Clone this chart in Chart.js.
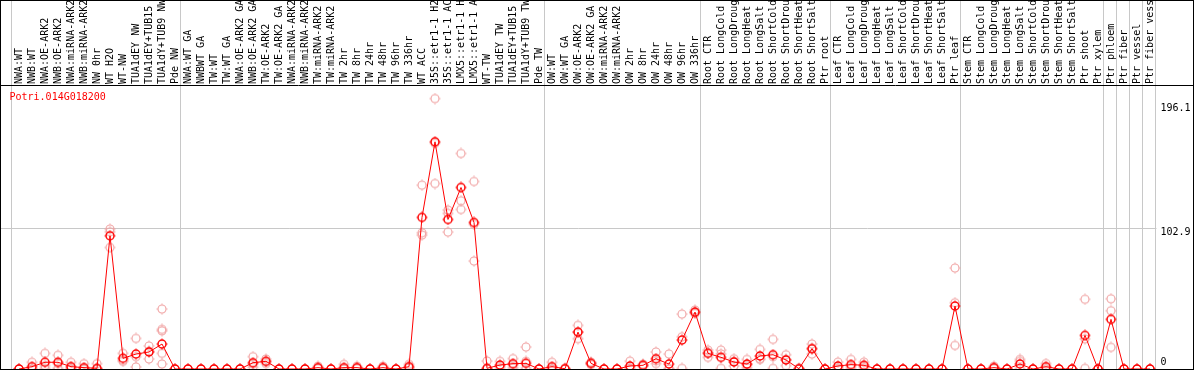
<!DOCTYPE html>
<html><head><meta charset="utf-8">
<script src="https://cdn.jsdelivr.net/npm/chart.js@4/dist/chart.umd.min.js"></script>
<style>html,body{margin:0;padding:0;background:#fff;overflow:hidden}</style>
</head><body>
<canvas id="c" width="1194" height="370"></canvas>
<script>
const geneId = 'Potri.014G018200';
const categories = [
 'NWA:WT','NWB:WT','NWA:OE-ARK2','NWB:OE-ARK2','NWA:miRNA-ARK2','NWB:miRNA-ARK2','NW 0hr','WT H2O','WT-NW','TUA1dEY NW',
 'TUA1dEY+TUB15 NW','TUA1dY+TUB9 NW','Pde NW','NWA:WT GA','NWBWT GA','TW:WT','TW:WT GA','NWA:OE-ARK2 GA','NWB:OE-ARK2 GA','TW:OE-ARK2',
 'TW:OE-ARK2 GA','NWA:miRNA-ARK2 GA','NWB:miRNA-ARK2 GA','TW:miRNA-ARK2','TW:miRNA-ARK2 GA','TW 2hr','TW 8hr','TW 24hr','TW 48hr','TW 96hr',
 'TW 336hr','WT ACC','35S::etr1-1 H2O','35S::etr1-1 ACC','LMX5::etr1-1 H2O','LMX5::etr1-1 ACC','WT-TW','TUA1dEY TW','TUA1dEY+TUB15 TW','TUA1dY+TUB9 TW',
 'Pde TW','OW:WT','OW:WT GA','OW:OE-ARK2','OW:OE-ARK2 GA','OW:miRNA-ARK2','OW:miRNA-ARK2 GA','OW 2hr','OW 8hr','OW 24hr',
 'OW 48hr','OW 96hr','OW 336hr','Root CTR','Root LongCold','Root LongDrought','Root LongHeat','Root LongSalt','Root ShortCold','Root ShortDrought',
 'Root ShortHeat','Root ShortSalt','Ptr root','Leaf CTR','Leaf LongCold','Leaf LongDrought','Leaf LongHeat','Leaf LongSalt','Leaf ShortCold','Leaf ShortDrought',
 'Leaf ShortHeat','Leaf ShortSalt','Ptr leaf','Stem CTR','Stem LongCold','Stem LongDrought','Stem LongHeat','Stem LongSalt','Stem ShortCold','Stem ShortDrought',
 'Stem ShortHeat','Stem ShortSalt','Ptr shoot','Ptr xylem','Ptr phloem','Ptr fiber','Ptr vessel','Ptr fiber vessel'
];
const meanValues = [
 0, 1.7, 4.9, 4.9, 1.7, 1.0, 0.5, 97.1, 7.8, 10.9,
 12.4, 18.2, 0, 0, 0, 0, 0, 0, 4.6, 5.6,
 0, 0, 0, 1, 0, 1, 1, 0, 1, 0,
 1.7, 110.5, 165.6, 109, 132.3, 106.8, 0.5, 2.9, 3.9, 4.1,
 0, 1.7, 0.2, 26.9, 4.1, 0, 0, 2.2, 2.7, 7.5,
 3.6, 21.1, 41.5, 11.4, 8.5, 5.1, 3.6, 9.5, 10.4, 6.6,
 0.2, 14.8, 0, 2.2, 3.2, 2.7, 0, 0, 0, 0,
 0, 0, 45.9, 0, 0, 1, 0, 3.6, 0, 1.7,
 0, 0, 24.5, 0, 36.2, 0, 0, 0
];
const rep1 = [
 0, 4.9, 11.4, 10, 4.9, 3.9, 3.9, 102, 11.4, 22.3,
 16.8, 43.7, 0, 0, 0, 0, 0, 0, 9, 7.3,
 0, 0, 0, 2, 0, 3.4, 2, 0, 2, 0,
 3.4, 134, 197.1, 115.8, 157.1, 136.7, 5.8, 5.6, 7.6, 16,
 0, 4.9, 0.5, 31.8, 5, 0, 0, 5.7, 3.5, 12.4,
 10.9, 40, 43, 13.8, 13.8, 7.5, 7, 14.3, 21.6, 10.4,
 0.5, 18.2, 0, 5, 7, 5, 0, 0, 0, 0,
 0, 0, 73.6, 0, 0, 2, 0, 7, 0, 4,
 0, 0, 50.8, 0, 51.2, 0, 0, 0
];
const rep2 = [
 0, 0, 2.5, 4, 0.5, 0, 0, 100, 5.6, 9,
 7.3, 28.9, 0, 0, 0, 0, 0, 0, 3.5, 5.5,
 0, 0, 0, 0.5, 0, 0, 0.5, 0, 0.5, 0,
 1, 99.3, 135.2, 113.4, 122.6, 105.4, 0, 2, 3, 5.6,
 0, 0.3, 0, 22.1, 4, 0, 0, 1, 2.5, 4,
 0.5, 23.5, 41, 8.5, 0.5, 2.2, 3, 7, 0.5, 2.5,
 0, 10.9, 0, 0.5, 2, 2, 0, 0, 0, 0,
 0, 0, 48.3, 0, 0, 0.5, 0, 5.6, 0, 1,
 0, 0, 22, 0, 42.5, 0, 0, 0
];
const rep3 = [
 0, 0, 0.5, 0.5, 0, 0, 0, 88.6, 6.4, 1.5,
 13, 27.8, 0, 0, 0, 0, 0, 0, 1.3, 4,
 0, 0, 0, 0.5, 0, 0, 0.5, 0, 0.5, 0,
 0.7, 97.6, 164.5, 99.8, 116.3, 78.7, 0, 1, 1, 0.5,
 0, 0, 0, 26.8, 3.3, 0, 0, 0, 2, 6,
 0, 0.5, 40.5, 12, 11, 5.6, 1, 7.5, 9, 7,
 0, 15, 0, 1, 0.5, 1, 0, 0, 0, 0,
 0, 0, 17.2, 0, 0, 0.5, 0, 0.5, 0, 0,
 0, 0, 0.5, 0, 15.8, 0, 0, 0
];
// extra replicates only present for 'TUA1dY+TUB9 NW'
const rep4 = new Array(88).fill(null); rep4[11] = 11.4;
const rep5 = new Array(88).fill(null); rep5[11] = 3.6;

const yTickValues = [0, 102.9, 196.1];
const yTickLabels = ['0', '102.9', '196.1'];
const yMax = 207;
// index of first category of each group (vertical separators), last = end
const groupStarts = [0, 13, 41, 53, 63, 73, 84, 85, 86, 87, 88];

const FONT = 'DejaVu Sans Mono';

function marker(color, lw) {
  const c = document.createElement('canvas');
  c.width = 12; c.height = 12;
  const g = c.getContext('2d');
  g.strokeStyle = color;
  g.lineWidth = lw;
  g.beginPath(); g.arc(6, 6, 4, 0, Math.PI * 2); g.stroke();
  g.fillStyle = color;
  g.fillRect(5.5, 0.5, 1, 1.2);
  g.fillRect(5.5, 10.3, 1, 1.2);
  g.fillRect(0.5, 5.5, 1.2, 1);
  g.fillRect(10.3, 5.5, 1.2, 1);
  return c;
}
const meanMarker = marker('#ff0000', 1.5);
const repMarker = marker('#f0a0a0', 1.1);

const decor = {
  id: 'decor',
  beforeDatasetsDraw(chart) {
    const { ctx, chartArea, scales: { x, y } } = chart;
    ctx.save();
    ctx.strokeStyle = '#c8c8c8';
    ctx.lineWidth = 1;
    const step = x.getPixelForValue(1) - x.getPixelForValue(0);
    ctx.beginPath();
    groupStarts.forEach(i => {
      const px = Math.round(x.getPixelForValue(0) + i * step - step / 2 - 1.5) + 0.5;
      ctx.moveTo(px, 0); ctx.lineTo(px, chart.height);
    });
    const py = Math.round(y.getPixelForValue(yTickValues[1])) + 0.5;
    ctx.moveTo(0, py); ctx.lineTo(chartArea.right, py);
    ctx.stroke();
    ctx.restore();
  },
  afterDraw(chart) {
    const { ctx, chartArea } = chart;
    ctx.save();
    ctx.strokeStyle = '#000';
    ctx.lineWidth = 1;
    ctx.strokeRect(0.5, 0.5, chart.width - 1, chartArea.bottom);
    ctx.beginPath();
    ctx.moveTo(0, chartArea.top + 0.5); ctx.lineTo(chart.width, chartArea.top + 0.5);
    ctx.stroke();
    ctx.fillStyle = '#ff0000';
    ctx.font = '10px "' + FONT + '"';
    ctx.textBaseline = 'middle';
    ctx.textAlign = 'left';
    ctx.fillText(geneId, chartArea.left - 3, chartArea.top + 12.5);
    ctx.restore();
  }
};

const repDs = (data) => ({
  data, showLine: false, pointStyle: repMarker, pointRadius: 5, borderColor: '#f0a0a0', backgroundColor: '#f0a0a0', clip: false
});

new Chart(document.getElementById('c'), {
  type: 'line',
  data: {
    labels: categories,
    datasets: [
      { data: meanValues, borderColor: '#ff0000', borderWidth: 1, tension: 0, pointStyle: meanMarker, pointRadius: 5, clip: false },
      repDs(rep1), repDs(rep2), repDs(rep3), repDs(rep4), repDs(rep5)
    ]
  },
  options: {
    responsive: false, animation: false, events: [],
    layout: { autoPadding: false, padding: { left: 12.5, right: 0, top: 0, bottom: 1 } },
    plugins: { legend: { display: false }, tooltip: { enabled: false } },
    scales: {
      x: {
        type: 'category', position: 'top', offset: true,
        grid: { display: false, drawTicks: false },
        border: { display: false },
        ticks: { autoSkip: false, minRotation: 90, maxRotation: 90, padding: 1, labelOffset: 12, color: '#000',
                 font: { family: FONT, size: 10 } },
        afterFit(s) { s.height = 85; s.paddingLeft = 0; s.paddingRight = 0; }
      },
      y: {
        position: 'right', min: 0, max: yMax,
        afterBuildTicks(s) { s.ticks = yTickValues.map(v => ({ value: v })); },
        grid: { display: false, drawTicks: false },
        border: { display: false },
        ticks: {
          padding: 4, color: '#000',
          font: (ctx) => {
            const i = yTickValues.indexOf(ctx.tick ? ctx.tick.value : -1);
            const lh = [1.4, 1.0, 1.6][i] || 1.2;
            return { family: FONT, size: 10, lineHeight: lh };
          },
          callback: (v) => {
            const i = yTickValues.indexOf(v);
            return i === 0 ? [yTickLabels[i], ''] : ['', yTickLabels[i]];
          }
        },
        afterFit(s) { s.width = 37.5; s.paddingTop = 0; s.paddingBottom = 0; }
      }
    }
  },
  plugins: [decor]
});
</script>
</body></html>
